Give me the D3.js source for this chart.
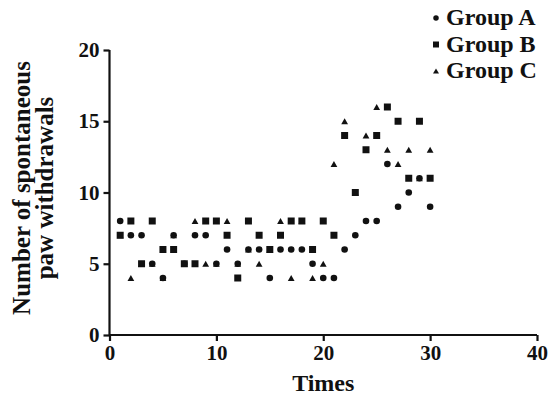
<!DOCTYPE html>
<html><head><meta charset="utf-8">
<script src="https://cdn.jsdelivr.net/npm/d3@7"></script>
<style>body{margin:0;background:#fff}svg{display:block}text{font-family:"Liberation Serif","Times New Roman",serif;font-weight:bold;fill:#111}</style>
</head><body>
<svg id="c" width="549" height="401"></svg>
<script>
const times = d3.range(1, 31);
const groupA = [8,7,7,5,4,7,5,7,7,5,6,5,6,6,4,6,6,6,5,4,4,6,7,8,8,12,9,10,11,9];
const groupB = [7,8,5,8,6,6,5,5,8,8,7,4,8,7,6,7,8,8,6,8,7,14,10,13,14,16,15,11,15,11];
const groupC = [7,4,5,5,4,7,5,8,5,5,8,5,6,5,6,8,4,8,4,5,12,15,10,14,16,13,12,13,11,13];
const xTicks = [0,10,20,30,40];
const yTicks = [0,5,10,15,20];
const seriesNames = ["Group A","Group B","Group C"];

const svg = d3.select("#c");
const x = d3.scaleLinear().domain([0,40]).range([109.5,537]);
const y = d3.scaleLinear().domain([0,20]).range([335,50]);

const xAxis = svg.append("g").attr("transform","translate(0,335)")
  .call(d3.axisBottom(x).tickValues(xTicks).tickSize(6).tickPadding(4));
const yAxis = svg.append("g").attr("transform","translate(109.5,0)")
  .call(d3.axisLeft(y).tickValues(yTicks).tickSize(6).tickPadding(4));
[xAxis,yAxis].forEach(a=>{
  a.selectAll("path,line").attr("stroke","#111").attr("stroke-width",2.2);
  a.selectAll("text").style("font-size","21px").attr("fill","#111");
});
xAxis.select("path").attr("d","M109.5,0H537");
yAxis.select("path").attr("d","M0,50V335");

svg.append("text").attr("x",(x(0)+x(40))/2).attr("y",391).attr("text-anchor","middle")
  .style("font-size","24px").text("Times");
const yt = svg.append("text").attr("transform","translate(0,188) rotate(-90)").attr("text-anchor","middle").style("font-size","25px");
yt.append("tspan").attr("x",0).attr("y",30).text("Number of spontaneous");
yt.append("tspan").attr("x",0).attr("y",53).text("paw withdrawals");

// marker shapes centred on their bounding box
function shape(kind, s){
  const h = s/2;
  if(kind===0) return `M${h},0A${h},${h} 0 1,1 ${-h},0A${h},${h} 0 1,1 ${h},0Z`;
  if(kind===1) return `M${-h},${-h}H${h}V${h}H${-h}Z`;
  return `M0,${-h*0.85}L${h},${h*0.85}L${-h},${h*0.85}Z`;
}
const markSize = [6.6, 7, 6.8];
const data = [groupA, groupB, groupC];
const order = [0,2,1];
order.forEach(i=>{
  svg.append("g").selectAll("path").data(times).join("path")
    .attr("transform",(t,j)=>`translate(${x(t)},${y(data[i][j])})`)
    .attr("d",shape(i,markSize[i])).attr("fill","#111");
});

const leg = svg.append("g");
seriesNames.forEach((n,i)=>{
  const gy = 25 + i*26.5;
  leg.append("path").attr("transform",`translate(436,${gy-7})`).attr("d",shape(i,[5.5,6,6][i])).attr("fill","#111");
  leg.append("text").attr("x",446).attr("y",gy).style("font-size","24px").text(n);
});
</script>
</body></html>
